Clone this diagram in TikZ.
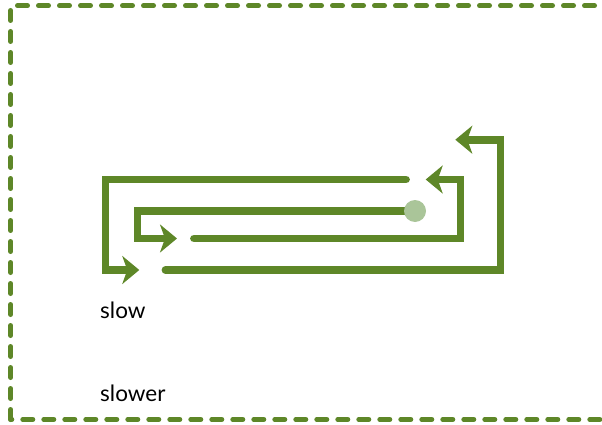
\documentclass[tikz,border=0pt]{standalone}
\usepackage{fontspec}
\setmainfont{Lato}
\usetikzlibrary{arrows.meta}
\definecolor{lgreen}{RGB}{94,135,40}
\definecolor{dotgreen}{RGB}{170,197,153}
\begin{document}
\begin{tikzpicture}[x=1pt,y=-1pt,
  flow/.style={draw=lgreen, line width=7.8pt, line cap=round,
    -{Stealth[length=17pt,width=28pt,inset=5pt]}},
  border/.style={draw=lgreen, line width=5pt, line cap=round,
    dash pattern=on 10pt off 11pt},
  lbl/.style={anchor=base west, inner sep=0pt, font=\fontsize{22.5}{27}\selectfont}]
\useasboundingbox (0,0) rectangle (602,425);
\clip (0,0) rectangle (602,425);
% border
\coordinate (tl) at (10.7,5.7);
\coordinate (tr) at (700,5.7);
\coordinate (bl) at (10.7,419.5);
\coordinate (br) at (700,419.5);
\draw[border, dash phase=14.2pt] (tl) -- (tr);
\draw[border, dash phase=16.2pt] (tl) -- (bl);
\draw[border, dash phase=8.9pt] (bl) -- (br);
% dot and spiral
\coordinate (d) at (415,211);
\coordinate (a1) at (137.5,211);
\coordinate (a2) at (137.5,238.5);
\coordinate (a3) at (177,238.5);
\coordinate (b0) at (194,238.5);
\coordinate (b1) at (460.5,238.5);
\coordinate (b2) at (460.5,179.5);
\coordinate (b3) at (425.7,179.5);
\coordinate (c0) at (406,179.5);
\coordinate (c1) at (105.5,179.5);
\coordinate (c2) at (105.5,270);
\coordinate (c3) at (139.3,270);
\coordinate (e0) at (165.5,270);
\coordinate (e1) at (500.5,270);
\coordinate (e2) at (500.5,139.7);
\coordinate (e3) at (455.3,139.7);
\draw[flow] (d) -- (a1) -- (a2) -- (a3);
\draw[flow] (b0) -- (b1) -- (b2) -- (b3);
\draw[flow] (c0) -- (c1) -- (c2) -- (c3);
\draw[flow] (e0) -- (e1) -- (e2) -- (e3);
\node[circle, fill=dotgreen, minimum size=22pt, inner sep=0pt] (dot) at (d) {};
% labels
\node[lbl] (slow) at (100,318.3) {slow};
\node[lbl] (slower) at (100,401) {slower};
\end{tikzpicture}
\end{document}
